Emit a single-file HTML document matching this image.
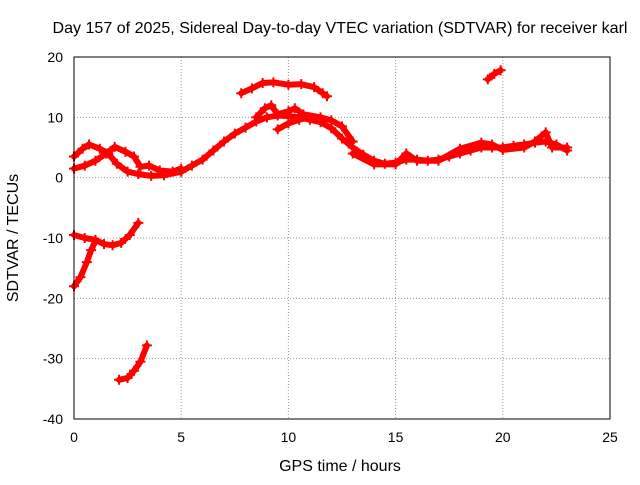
<!DOCTYPE html>
<html><head><meta charset="utf-8"><style>
body{margin:0;background:#fff;width:640px;height:480px;overflow:hidden}
text{font-family:"Liberation Sans",sans-serif;font-size:14px;fill:#000}
.big{font-size:16px}
</style></head><body>
<svg id="chart" width="640" height="480" xmlns="http://www.w3.org/2000/svg">
<text class="big" x="340" y="33" text-anchor="middle" textLength="575" lengthAdjust="spacingAndGlyphs">Day 157 of 2025, Sidereal Day-to-day VTEC variation (SDTVAR) for receiver karl</text>
<text class="big" x="340" y="471" text-anchor="middle">GPS time / hours</text>
<text class="big" transform="translate(18,238) rotate(-90)" text-anchor="middle">SDTVAR / TECUs</text>
<g id="grid"></g><g id="ticks"></g><g id="series"></g>
<rect x="74" y="57" width="536" height="362" fill="none" stroke="#000" stroke-width="1"/>
</svg>
<script>
const xTicks=[0,5,10,15,20,25];
const yTicks=[20,10,0,-10,-20,-30,-40];
const trackA=[[0,3.5],[0.4,4.8],[0.7,5.5],[1.2,4.8],[1.6,4],[2,2.3],[2.5,1],[3,0.6],[3.6,0.3],[4.2,0.4],[5,1]];
const trackB=[[0,1.5],[0.5,2],[1,2.8],[1.5,4],[1.9,5.1],[2.4,4.3],[2.8,3.5],[3.1,1.8],[3.5,2],[4,1.2],[4.6,1],[5,1.5]];
const trackMain=[[5,1],[5.5,2],[6,3],[6.5,4.5],[7,6],[7.5,7.3],[8,8.3],[8.5,9.3],[9,10],[9.5,10.3],[10,10.2],[10.5,10],[11,9.6],[11.5,9.2],[12,8.2],[12.5,6.5],[13,5],[13.5,3.8],[14,2.8],[14.5,2.3],[15,2.5],[15.5,3],[16,3],[16.5,2.8],[17,3],[17.5,3.5],[18,4],[18.5,4.5],[19,5],[19.5,5],[20,5],[20.5,5.3],[21,5.5],[21.5,5.8],[22,6],[22.5,5.5],[23,4.5]];
const trackMain2=[[13,4],[14,2.2],[15,2.2],[15.5,4],[16,2.8],[17,2.8],[18,4.8],[19,5.8],[19.5,5.5],[20,4.6],[21,5],[21.5,6],[22,7.5],[22.3,5],[23,5]];
const trackUpper2=[[8.5,10],[8.9,11.5],[9.2,12],[9.5,10.5],[10,11],[10.3,11.5],[10.7,10.5],[11.5,10],[12,9.5],[12.5,8.5],[13,6]];
const trackLow2=[[9.5,8],[10,9],[10.5,9.6],[11,10],[11.5,9.5]];
const trackArc=[[7.8,14],[8.3,14.8],[8.8,15.7],[9.3,15.8],[10,15.4],[10.6,15.5],[11.2,15],[11.6,14],[11.8,13.5]];
const trackSpike=[[19.3,16.3],[19.6,17.2],[19.9,17.8]];
const trackNeg1=[[0,-9.5],[0.5,-10],[1,-10.3],[1.4,-11],[1.8,-11.2],[2.2,-10.8],[2.6,-9.5],[3,-7.5]];
const trackNeg2=[[0,-18],[0.3,-16.5],[0.6,-14],[0.8,-12],[1,-10.5]];
const trackNeg3=[[2.1,-33.5],[2.5,-33.2],[2.8,-32],[3.1,-30.5],[3.4,-27.8]];
const tracks=[trackA,trackB,trackMain,trackMain2,trackUpper2,trackLow2,trackArc,trackSpike,trackNeg1,trackNeg2,trackNeg3];
const X=v=>74+v*(536/25), Y=v=>57+(20-v)*(362/60);
const NS="http://www.w3.org/2000/svg";
const grid=document.getElementById('grid'),ticks=document.getElementById('ticks'),ser=document.getElementById('series');
function mk(tag,attrs,parent){const e=document.createElementNS(NS,tag);for(const k in attrs)e.setAttribute(k,attrs[k]);parent.appendChild(e);return e;}
xTicks.forEach(t=>{
 const g=mk('line',{x1:X(t),x2:X(t),y1:57,y2:419,stroke:'#999','stroke-dasharray':'1,2'},grid);
 
 
 const l=mk('text',{x:X(t),y:442,'text-anchor':'middle'},ticks);l.textContent=t;
 
 
});
yTicks.forEach(t=>{
 const g=mk('line',{x1:74,x2:610,y1:Y(t),y2:Y(t),stroke:'#999','stroke-dasharray':'1,2'},grid);
 
 
 const l=mk('text',{x:63,y:Y(t)+5,'text-anchor':'end'},ticks);l.textContent=t;
 
 
});
tracks.forEach(tr=>{
 const p=mk('polyline',{points:tr.map(d=>X(d[0])+','+Y(d[1])).join(' '),fill:'none',stroke:'#f00','stroke-width':6,'stroke-linejoin':'round','stroke-linecap':'round'},ser);
 
 
 tr.forEach(d=>{
  const m=mk('path',{d:`M${X(d[0])-5},${Y(d[1])}h10M${X(d[0])},${Y(d[1])-5}v10`,stroke:'#f00','stroke-width':2},ser);
  
  
 });
});
</script>
</body></html>
